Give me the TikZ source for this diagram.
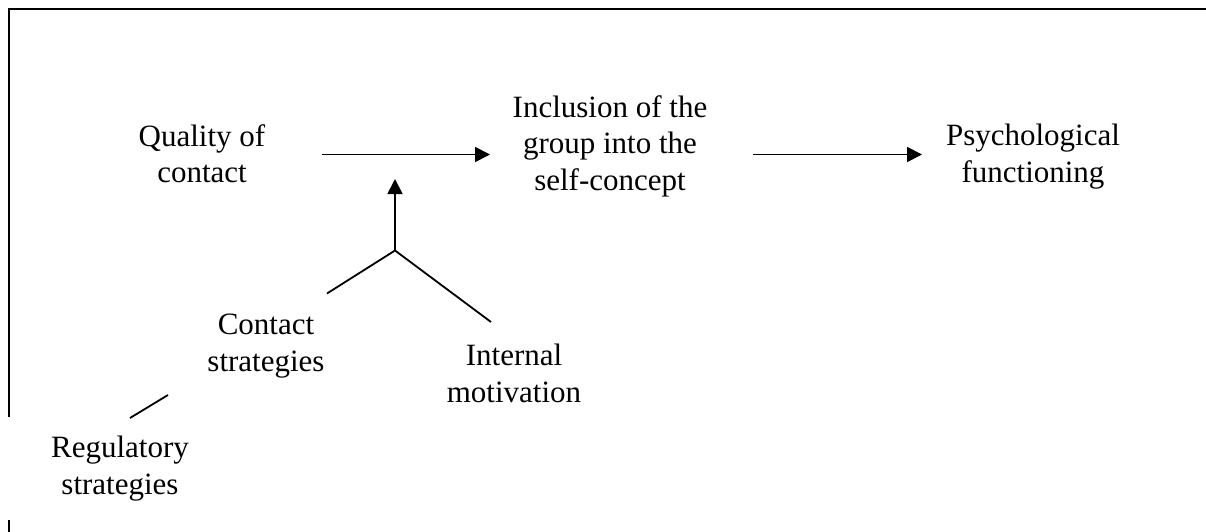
\documentclass[tikz,border=0pt]{standalone}
\usepackage{fontspec}
\setmainfont{Liberation Serif}
\usetikzlibrary{arrows.meta}
\begin{document}
\begin{tikzpicture}[x=1pt,y=-1pt,
  lbl/.style={align=center,inner sep=0pt,anchor=north,font=\fontsize{31}{36.5}\selectfont},
  conn/.style={line width=1.8pt},
  arr/.style={conn,-{Triangle[length=15pt,width=15pt]}},
  frame/.style={line width=2.2pt}]
\useasboundingbox (0,0) rectangle (1206,532);
% frame
\draw[frame] (9,532) -- (9,520);
\draw[frame] (9,417) -- (9,9) -- (1206,9);
% labels
\node[lbl] (qual) at (202,124) {Quality of\\contact};
\node[lbl] (incl) at (610,95) {Inclusion of the\\group into the\\self-concept};
\node[lbl] (psy) at (1033,124) {Psychological\\functioning};
\node[lbl] (cs) at (266,314) {Contact\\strategies};
\node[lbl] (im) at (514,344) {Internal\\motivation};
\node[lbl] (rs) at (120,436) {Regulatory\\strategies};
% connector points
\coordinate (a1s) at (322,154.5);
\coordinate (a1e) at (490,154.5);
\coordinate (a2s) at (753,154.5);
\coordinate (a2e) at (922,154.5);
\coordinate (join) at (395,250.5);
\coordinate (up) at (395,179);
\coordinate (lb) at (327,293.5);
\coordinate (rb) at (491,322);
\coordinate (r1) at (130,418);
\coordinate (r2) at (168,395);
% connectors
\draw[arr] (a1s) -- (a1e);
\draw[arr] (a2s) -- (a2e);
\draw[arr] (join) -- (up);
\draw[conn] (lb) -- (join) -- (rb);
\draw[conn] (r1) -- (r2);
\end{tikzpicture}
\end{document}
